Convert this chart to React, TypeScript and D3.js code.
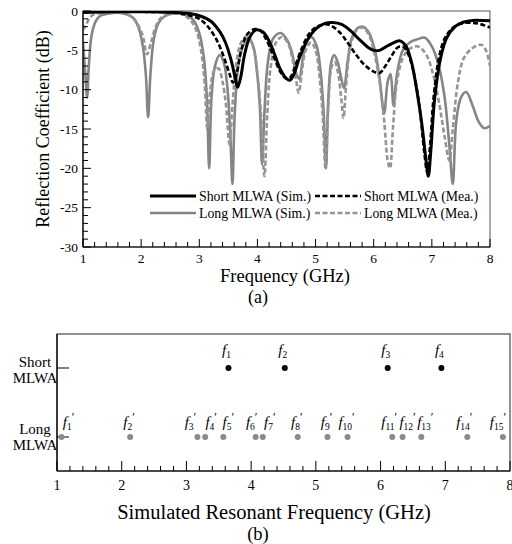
import React from "react";
import * as d3 from "d3";

// ---------- Data (a): reflection coefficient curves ----------
const shortSimF = [1.0, 1.5, 2.0, 2.5, 2.8, 3.0, 3.2, 3.35, 3.45, 3.55, 3.62, 3.66, 3.71, 3.78, 3.87, 3.98, 4.1, 4.2, 4.3, 4.4, 4.5, 4.56, 4.63, 4.72, 4.85, 5.0, 5.15, 5.3, 5.45, 5.6, 5.75, 5.9, 6.0, 6.1, 6.2, 6.32, 6.45, 6.55, 6.65, 6.75, 6.83, 6.9, 6.94, 6.98, 7.05, 7.15, 7.25, 7.4, 7.55, 7.7, 8.0];
const shortSimDb = [-0.2, -0.1, -0.1, -0.15, -0.3, -0.6, -1.3, -2.6, -4.0, -6.3, -8.6, -9.7, -8.5, -5.5, -3.3, -2.4, -2.7, -3.8, -5.6, -7.5, -8.6, -8.8, -8.0, -6.0, -3.8, -2.3, -1.6, -1.45, -1.7, -2.5, -3.6, -4.6, -5.0, -5.0, -4.6, -4.1, -3.8, -4.4, -6.5, -10.5, -14.5, -19.0, -21.0, -18.0, -11.0, -6.0, -3.5, -2.0, -1.4, -1.2, -1.25];

const shortMeaF = [1.0, 2.0, 2.5, 2.8, 3.0, 3.15, 3.3, 3.42, 3.52, 3.58, 3.64, 3.72, 3.82, 3.95, 4.05, 4.15, 4.28, 4.4, 4.5, 4.57, 4.65, 4.75, 4.88, 5.0, 5.15, 5.25, 5.4, 5.55, 5.7, 5.85, 6.0, 6.1, 6.2, 6.3, 6.42, 6.52, 6.62, 6.72, 6.8, 6.87, 6.92, 6.97, 7.03, 7.12, 7.22, 7.35, 7.5, 7.7, 7.85, 8.0];
const shortMeaDb = [-0.1, -0.1, -0.2, -0.5, -1.0, -2.0, -3.7, -5.8, -8.0, -9.1, -8.0, -5.0, -3.0, -2.3, -2.5, -3.6, -5.8, -7.8, -8.6, -8.4, -7.0, -5.0, -3.0, -2.1, -1.7, -1.8, -2.6, -4.0, -5.6, -6.9, -7.7, -7.9, -7.0, -5.8, -4.6, -4.6, -6.0, -9.0, -13.0, -18.0, -20.5, -17.0, -11.0, -6.0, -3.5, -2.2, -1.6, -1.5, -1.7, -2.1];

const longSimF = [1.0, 1.04, 1.07, 1.1, 1.15, 1.22, 1.3, 1.45, 1.7, 1.85, 1.95, 2.03, 2.08, 2.12, 2.16, 2.22, 2.3, 2.4, 2.55, 2.75, 2.9, 3.0, 3.08, 3.13, 3.17, 3.21, 3.27, 3.35, 3.42, 3.48, 3.53, 3.57, 3.61, 3.67, 3.75, 3.85, 3.93, 3.99, 4.04, 4.08, 4.12, 4.18, 4.27, 4.4, 4.52, 4.6, 4.67, 4.72, 4.78, 4.85, 4.93, 5.02, 5.09, 5.14, 5.18, 5.22, 5.27, 5.32, 5.38, 5.44, 5.49, 5.55, 5.62, 5.72, 5.82, 5.92, 6.02, 6.1, 6.18, 6.24, 6.29, 6.34, 6.4, 6.5, 6.62, 6.75, 6.88, 7.0, 7.12, 7.22, 7.3, 7.36, 7.42, 7.5, 7.59, 7.7, 7.8, 7.9, 8.0];
const longSimDb = [-4.0, -8.0, -11.0, -7.0, -3.0, -1.3, -0.6, -0.3, -0.3, -0.8, -2.0, -4.5, -8.0, -13.5, -8.0, -3.5, -1.5, -0.7, -0.3, -0.4, -1.2, -2.8, -6.0, -11.0, -20.0, -11.0, -7.0, -5.6, -6.5, -9.5, -15.0, -22.0, -13.0, -7.0, -4.5, -3.4, -4.5, -7.5, -12.0, -19.5, -13.0, -6.5, -3.5, -2.8, -3.8, -5.5, -8.0, -8.6, -6.0, -3.8, -3.3, -4.5, -8.0, -13.0, -20.0, -11.0, -6.5, -5.6, -6.5, -8.5, -9.8, -6.5, -3.5, -2.2, -2.0, -2.8, -5.0, -8.5, -13.0, -9.0, -8.0, -12.0, -8.0, -5.0, -4.0, -3.6, -3.4, -4.5, -7.0, -11.0, -17.0, -22.0, -14.0, -11.0, -10.3, -12.0, -14.0, -14.9, -14.6];

const longMeaF = [1.0, 1.05, 1.12, 1.2, 1.4, 1.7, 1.85, 1.95, 2.03, 2.1, 2.17, 2.25, 2.35, 2.5, 2.7, 2.85, 2.95, 3.03, 3.09, 3.14, 3.19, 3.26, 3.33, 3.4, 3.46, 3.52, 3.57, 3.64, 3.72, 3.82, 3.92, 4.0, 4.06, 4.12, 4.17, 4.23, 4.32, 4.42, 4.52, 4.6, 4.67, 4.71, 4.76, 4.83, 4.92, 5.0, 5.07, 5.12, 5.17, 5.22, 5.28, 5.33, 5.39, 5.44, 5.48, 5.53, 5.6, 5.7, 5.8, 5.9, 6.0, 6.1, 6.18, 6.24, 6.28, 6.33, 6.4, 6.5, 6.62, 6.76, 6.9, 7.02, 7.12, 7.22, 7.3, 7.36, 7.45, 7.55, 7.7, 7.85, 7.93, 8.0];
const longMeaDb = [-2.4, -1.8, -0.8, -0.4, -0.2, -0.3, -0.8, -1.8, -3.2, -5.5, -4.0, -2.0, -0.8, -0.3, -0.4, -1.2, -2.5, -5.0, -9.0, -15.0, -10.0, -7.5, -7.3, -9.0, -12.0, -17.0, -12.0, -6.5, -4.0, -3.2, -4.5, -8.0, -13.0, -21.0, -13.0, -7.0, -4.0, -3.3, -4.0, -6.0, -9.0, -10.4, -8.0, -5.0, -4.0, -5.0, -8.5, -13.0, -20.0, -12.0, -7.0, -6.5, -8.0, -11.0, -13.6, -9.0, -4.5, -2.5, -2.1, -2.8, -5.0, -9.0, -14.0, -19.0, -20.0, -15.0, -9.0, -6.0, -4.8, -4.5, -5.5, -8.0, -11.5, -16.0, -19.0, -15.0, -9.0, -6.0, -4.7, -4.3, -5.0, -7.0];

const seriesNames = ["Short MLWA (Sim.)", "Short MLWA (Mea.)", "Long MLWA (Sim.)", "Long MLWA (Mea.)"];

const freqTicks = [1, 2, 3, 4, 5, 6, 7, 8];
const dbTicks = [0, -5, -10, -15, -20, -25, -30];

// ---------- Data (b): simulated resonant frequencies ----------
const rowNames = ["Short MLWA", "Long MLWA"];
const shortRes = [3.65, 4.52, 6.11, 6.94];
const longRes = [1.07, 2.13, 3.17, 3.29, 3.57, 4.07, 4.18, 4.72, 5.18, 5.49, 6.18, 6.34, 6.63, 7.34, 7.89];

const FONT = '"Liberation Serif", "Times New Roman", "DejaVu Serif", serif';

// label nudges (layout only) for the long-MLWA annotations
const longLabelNudge = [8, 0, -6, 7, 6, -3, 8, 0, 0, 0, -2, 6, 5, -2, -4];

function zip(f: number[], v: number[]) {
  return f.map((x, i) => [x, v[i]] as [number, number]);
}

export default function App() {
  const xA = d3.scaleLinear().domain([1, 8]).range([83, 490]);
  const yA = d3.scaleLinear().domain([-30, 0]).range([247, 11]);
  const lineA = d3
    .line<[number, number]>()
    .x((d) => xA(d[0]))
    .y((d) => yA(d[1]))
    .curve(d3.curveCatmullRom.alpha(0.5));

  const series = [
    { name: seriesNames[2], data: zip(longSimF, longSimDb), color: "#858585", width: 2.6, dash: "" },
    { name: seriesNames[3], data: zip(longMeaF, longMeaDb), color: "#959595", width: 2.6, dash: "5,2.5" },
    { name: seriesNames[1], data: zip(shortMeaF, shortMeaDb), color: "#000", width: 2.6, dash: "5,2.5" },
    { name: seriesNames[0], data: zip(shortSimF, shortSimDb), color: "#000", width: 3, dash: "" },
  ];
  const styleOf = (n: string) => series.find((s) => s.name === n)!;

  const minorX = d3.range(1, 8.0001, 0.2);
  const minorY = d3.range(-30, 0.0001, 1);

  const xB = d3.scaleLinear().domain([1, 8]).range([57, 510]);
  const yB = d3.scalePoint<string>().domain(rowNames).range([368, 437]);
  const bTop = 334;
  const bBot = 471;

  const legendPos = [
    { name: seriesNames[0], x: 150, y: 196 },
    { name: seriesNames[1], x: 315, y: 196 },
    { name: seriesNames[2], x: 150, y: 213 },
    { name: seriesNames[3], x: 315, y: 213 },
  ];

  return (
    <svg
      width={512}
      height={544}
      style={{ position: "absolute", left: 0, top: 0, background: "#fff", fontFamily: FONT }}
    >
      <rect width={512} height={544} fill="#fff" />
      <defs>
        <clipPath id="clipA">
          <rect x={83} y={11} width={407} height={236} />
        </clipPath>
      </defs>

      {/* ---------- (a) ---------- */}
      <rect x={83} y={11} width={407} height={236} fill="none" stroke="#555" strokeWidth={1} />
      <g clipPath="url(#clipA)">
        {series.map((s) => (
          <path
            key={s.name}
            d={lineA(s.data) || ""}
            fill="none"
            stroke={s.color}
            strokeWidth={s.width}
            strokeDasharray={s.dash || undefined}
            strokeLinejoin="round"
          />
        ))}
      </g>
      <line x1={83} x2={490} y1={247} y2={247} stroke="#000" strokeWidth={1.2} />
      <line x1={83} x2={83} y1={11} y2={247} stroke="#000" strokeWidth={1.2} />
      {minorX.map((v, i) => {
        const major = Math.abs(v - Math.round(v)) < 1e-6;
        return (
          <line key={"xt" + i} x1={xA(v)} x2={xA(v)} y1={247} y2={247 - (major ? 8 : 5)} stroke="#000" strokeWidth={1} />
        );
      })}
      {minorY.map((v, i) => {
        const major = Math.abs(v % 5) < 1e-6;
        return (
          <line key={"yt" + i} x1={83} x2={83 + (major ? 8 : 5)} y1={yA(v)} y2={yA(v)} stroke="#000" strokeWidth={1} />
        );
      })}
      {freqTicks.map((t) => (
        <text key={"xl" + t} x={xA(t)} y={263} fontSize={13.5} textAnchor="middle">
          {t}
        </text>
      ))}
      {dbTicks.map((t) => (
        <text key={"yl" + t} x={78} y={yA(t) + 4.5} fontSize={13.5} textAnchor="end">
          {t}
        </text>
      ))}
      <text x={285} y={282} fontSize={18.5} textAnchor="middle">
        Frequency (GHz)
      </text>
      <text x={258} y={303} fontSize={18} textAnchor="middle">
        (a)
      </text>
      <text transform="translate(49,129) rotate(-90)" fontSize={18} textAnchor="middle">
        Reflection Coefficient (dB)
      </text>
      {legendPos.map((l) => {
        const s = styleOf(l.name);
        return (
          <g key={"lg" + l.name}>
            <line
              x1={l.x}
              x2={l.x + 46}
              y1={l.y}
              y2={l.y}
              stroke={s.color}
              strokeWidth={s.width}
              strokeDasharray={s.dash || undefined}
            />
            <text x={l.x + 49} y={l.y + 4.5} fontSize={13.8}>
              {l.name}
            </text>
          </g>
        );
      })}

      {/* ---------- (b) ---------- */}
      <rect x={57} y={bTop} width={453} height={bBot - bTop} fill="none" stroke="#222" strokeWidth={1} />
      <line x1={57} x2={510} y1={bBot} y2={bBot} stroke="#000" strokeWidth={1.2} />
      <line x1={57} x2={57} y1={bTop} y2={bBot} stroke="#000" strokeWidth={1.2} />
      {minorX.map((v, i) => {
        const major = Math.abs(v - Math.round(v)) < 1e-6;
        return (
          <line key={"bxt" + i} x1={xB(v)} x2={xB(v)} y1={bBot} y2={bBot - (major ? 10 : 5)} stroke="#000" strokeWidth={1} />
        );
      })}
      {rowNames.map((r) => (
        <line key={"byt" + r} x1={57} x2={69} y1={yB(r)!} y2={yB(r)!} stroke="#000" strokeWidth={1} />
      ))}
      {freqTicks.map((t) => (
        <text key={"bxl" + t} x={xB(t)} y={490} fontSize={14} textAnchor="middle">
          {t}
        </text>
      ))}
      <text x={35} y={367} fontSize={15} textAnchor="middle">Short</text>
      <text x={35} y={383} fontSize={15} textAnchor="middle">MLWA</text>
      <text x={35} y={434} fontSize={15} textAnchor="middle">Long</text>
      <text x={35} y={450} fontSize={15} textAnchor="middle">MLWA</text>
      <text x={274} y={519} fontSize={20.5} textAnchor="middle">
        Simulated Resonant Frequency (GHz)
      </text>
      <text x={258} y={540} fontSize={18.5} textAnchor="middle">
        (b)
      </text>
      {shortRes.map((f, i) => (
        <g key={"sr" + i}>
          <circle cx={xB(f)} cy={yB(rowNames[0])!} r={3} fill="#000" />
          <text x={xB(f) - 2} y={yB(rowNames[0])! - 13} fontSize={15} textAnchor="middle">
            <tspan fontStyle="italic">f</tspan>
            <tspan fontSize={9.5} dy={3}>{i + 1}</tspan>
          </text>
        </g>
      ))}
      {longRes.map((f, i) => {
        const cx = xB(f);
        return (
          <g key={"lr" + i}>
            <circle cx={cx} cy={yB(rowNames[1])!} r={3} fill="#8a8a8a" />
            <text x={cx + longLabelNudge[i] - 1} y={yB(rowNames[1])! - 10} fontSize={15} textAnchor="middle">
              <tspan fontStyle="italic">f</tspan>
              <tspan fontSize={9.5} dy={3}>{i + 1}</tspan>
              <tspan fontSize={12} dy={-9}>′</tspan>
            </text>
          </g>
        );
      })}
    </svg>
  );
}
